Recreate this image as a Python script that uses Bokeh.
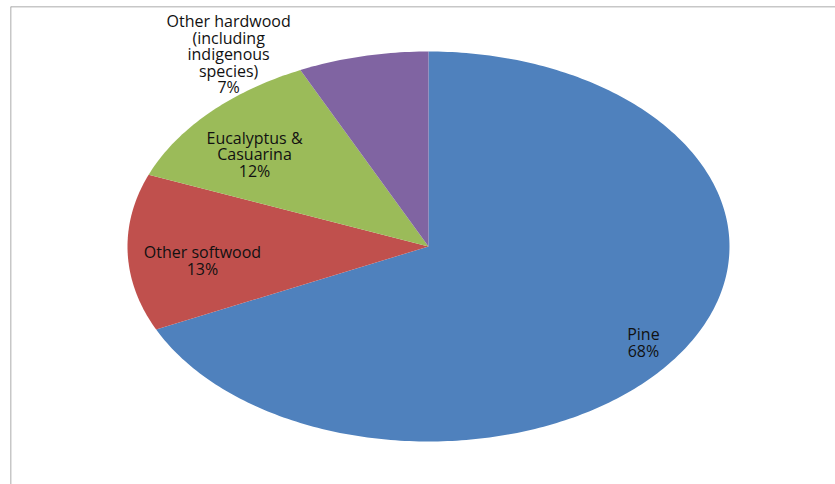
import math
from bokeh.plotting import figure
from bokeh.models import Range1d, Span, ColumnDataSource
from bokeh.core.properties import value
from bokeh.embed import file_html
from bokeh.resources import INLINE

# ---- data ----
categories = ["Pine", "Other softwood", "Eucalyptus &\nCasuarina",
              "Other hardwood\n(including\nindigenous\nspecies)"]
shares = [68, 13, 12, 7]
colors = ["#4F81BD", "#C0504D", "#9BBB59", "#8064A2"]

# ---- layout (pixels) ----
W, H = 835, 484
BORDER_LEFT, BORDER_TOP = 10, 6
FRAME_W, FRAME_H = W - BORDER_LEFT, H - BORDER_TOP
CX, CY = 418, 240          # pie centre within the frame
RX, RY = 301, 195          # pie radii in pixels

# label anchors in pie-radius units (x right, y up)
label_pos = [(0.714, -0.492), (-0.751, -0.072), (-0.578, 0.474), (-0.664, 0.987)]

p = figure(width=W, height=H, output_backend="svg", toolbar_location=None,
           x_axis_location=None, y_axis_location=None,
           x_range=Range1d(-CX / RX, (FRAME_W - CX) / RX),
           y_range=Range1d(-(FRAME_H - CY) / RY, CY / RY),
           min_border_left=BORDER_LEFT, min_border_right=0,
           min_border_top=BORDER_TOP, min_border_bottom=0)
p.grid.visible = False
p.outline_line_color = None
p.background_fill_color = "white"
p.border_fill_color = "white"

# slices: clockwise from 12 o'clock, unit circle scaled to ellipse by ranges
total = float(sum(shares))
xs, ys = [], []
start = 0.0
for s in shares:
    end = start + s / total * 2 * math.pi
    n = max(8, int(s * 4))
    px, py = [0.0], [0.0]
    for i in range(n + 1):
        a = start + (end - start) * i / n
        px.append(math.sin(a))
        py.append(math.cos(a))
    xs.append(px)
    ys.append(py)
    start = end

p.patches(xs=xs, ys=ys, fill_color=colors, line_color=None)

labels = [f"{c}\n{s}%" for c, s in zip(categories, shares)]
src = ColumnDataSource(dict(x=[lp[0] for lp in label_pos],
                            y=[lp[1] for lp in label_pos],
                            t=labels))
p.text(x="x", y="y", text="t", source=src, text_align="center",
       text_baseline="middle", text_font=value("Open Sans"),
       text_font_size="16px", text_color="#111111", text_line_height=0.75)

p.add_layout(Span(location=p.y_range.end, dimension="width",
                  line_color="#8f8f8f", line_width=1.5))
p.add_layout(Span(location=p.x_range.start, dimension="height",
                  line_color="#8f8f8f", line_width=1.5))

open("out.html", "w").write(file_html(p, INLINE))
